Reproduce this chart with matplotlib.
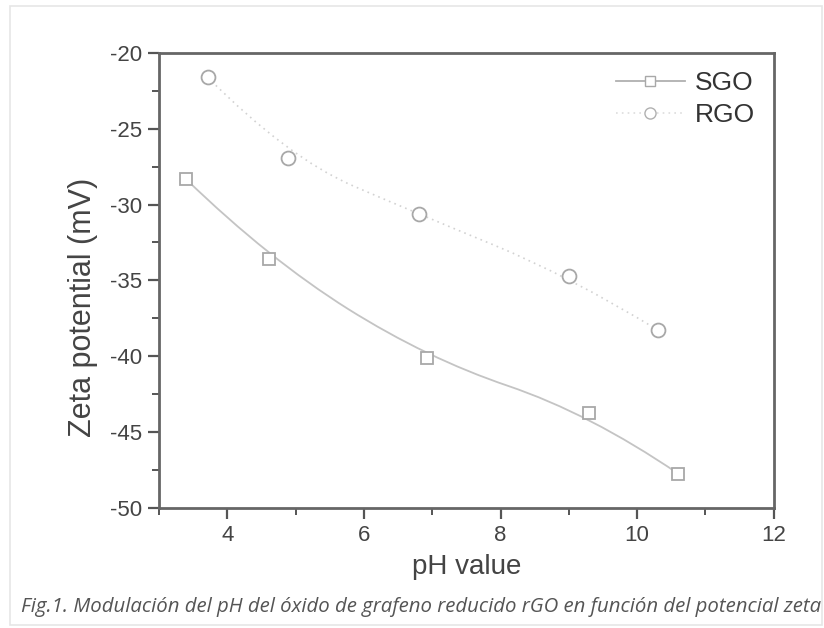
import matplotlib
matplotlib.use('Agg')
import matplotlib.pyplot as plt
from matplotlib.path import Path
from matplotlib.patches import PathPatch, Rectangle
from matplotlib.lines import Line2D
from matplotlib.ticker import MultipleLocator

# datos
ph_sgo = [3.40, 4.61, 6.92, 9.30, 10.60]
zeta_sgo = [-28.35, -33.61, -40.14, -43.76, -47.73]
ph_rgo = [3.71, 4.89, 6.80, 9.00, 10.31]
zeta_rgo = [-21.61, -26.93, -30.63, -34.70, -38.29]

caption = u'Fig.1. Modulación del pH del óxido de grafeno reducido rGO en función del potencial zeta'

plt.rcParams['font.family'] = ['Liberation Sans', 'DejaVu Sans']
plt.rcParams['axes.unicode_minus'] = False

fig = plt.figure(figsize=(8.24, 6.28), dpi=100)
ax = fig.add_axes([0.193, 0.191, 0.746, 0.725])

# marco gris claro de la imagen
fig.patches.append(Rectangle((10 / 824, 3 / 628), 812 / 824, 619 / 628, transform=fig.transFigure,
                             fill=False, edgecolor='#e6e6e6', linewidth=1.2))


def curva_bspline(x, y):
    # curva suave tipo B-spline (Origin) usando los puntos como control
    pts = list(zip(x, y))
    verts = [pts[0]]
    codes = [Path.MOVETO]
    for i in range(1, len(pts) - 1):
        if i < len(pts) - 2:
            fin = ((pts[i][0] + pts[i + 1][0]) / 2, (pts[i][1] + pts[i + 1][1]) / 2)
        else:
            fin = pts[i + 1]
        verts += [pts[i], fin]
        codes += [Path.CURVE3, Path.CURVE3]
    return Path(verts, codes)


ax.add_patch(PathPatch(curva_bspline(ph_sgo, zeta_sgo), facecolor='none',
                       edgecolor='#c4c4c4', linewidth=1.3))
ax.add_patch(PathPatch(curva_bspline(ph_rgo, zeta_rgo), facecolor='none',
                       edgecolor='#d2d2d2', linewidth=1.2, linestyle=(0, (1, 2.5))))

ax.plot(ph_sgo, zeta_sgo, 's', ms=8.5, mfc='white', mec='#a8a8a8', mew=1.3, zorder=3)
ax.plot(ph_rgo, zeta_rgo, 'o', ms=10, mfc='white', mec='#a8a8a8', mew=1.3, zorder=3)

ax.set_xlim(3, 12)
ax.set_ylim(-50, -20)
ax.xaxis.set_major_locator(MultipleLocator(2))
ax.xaxis.set_minor_locator(MultipleLocator(1))
ax.yaxis.set_major_locator(MultipleLocator(5))
ax.yaxis.set_minor_locator(MultipleLocator(2.5))
ax.tick_params(which='major', direction='out', length=8, width=1.6, color='#555555',
               labelsize=16, labelcolor='#444444', pad=4)
ax.tick_params(which='minor', direction='out', length=5, width=1.4, color='#555555')
ax.tick_params(top=False, right=False)
for s in ax.spines.values():
    s.set_color('#666666')
    s.set_linewidth(2)

ax.set_xlabel('pH value', fontsize=20, color='#444444', labelpad=6)
ax.set_ylabel('Zeta potential (mV)', fontsize=22, color='#444444')
ax.yaxis.set_label_coords(-0.099, 0.44)

h_sgo = Line2D([], [], color='#b0b0b0', lw=1.3, marker='s', ms=7, mfc='white', mec='#a8a8a8')
h_rgo = Line2D([], [], color='#dddddd', lw=1.2, ls=(0, (1, 2.5)), marker='o', ms=8,
               mfc='white', mec='#b0b0b0')
ax.legend([h_sgo, h_rgo], ['SGO', 'RGO'], loc='upper right', frameon=False, fontsize=19,
          handlelength=2.6, handletextpad=0.4, labelspacing=0.3,
          borderaxespad=0.3, labelcolor='#333333')

fig.text(21 / 824, 1 - 607 / 628, caption, fontsize=14.7, style='italic', color='#555555',
         family=['Open Sans', 'DejaVu Sans'], va='center', ha='left')

fig.savefig('out.png', dpi=100, facecolor='white')
